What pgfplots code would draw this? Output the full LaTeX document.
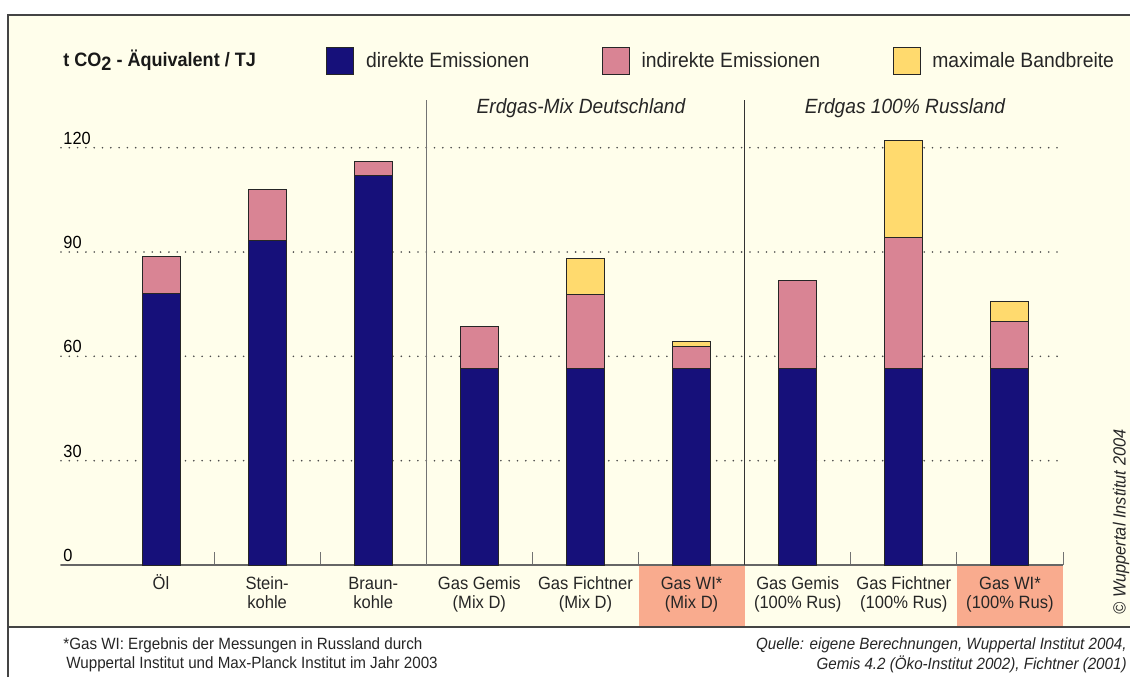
\documentclass[border=0pt]{standalone}
\usepackage{fontspec}
\setmainfont{Liberation Sans}[FakeStretch=0.93]
\usepackage{pgfplots}
\usepackage{pgfplotstable}
\pgfplotsset{compat=1.18}
\definecolor{navyb}{HTML}{16107A}
\definecolor{pinkb}{HTML}{D98494}
\definecolor{yellowb}{HTML}{FFDA6E}
\definecolor{creambg}{HTML}{FFFEEB}
\definecolor{orangebg}{HTML}{F9AB8E}
\definecolor{framec}{HTML}{444444}

\pgfplotstableread{
x direct indirect band
0 78.2 10.4 0
1 93.2 14.9 0
2 111.9 4.0 0
3 56.4 12.3 0
4 56.4 21.5 10.1
5 56.4 6.3 1.7
6 56.4 25.3 0
7 56.4 37.9 27.9
8 56.4 13.5 6.0
}\emissions

\begin{document}
\begin{tikzpicture}
\begin{scope}[x=0.5pt,y=-0.5pt]
\useasboundingbox (0,0) rectangle (1130,677);
\fill[white] (0,0) rectangle (1130,677);
\fill[creambg] (8,15) rectangle (1130,627);
\fill[orangebg] (639,566) rectangle (745,627);
\fill[orangebg] (957,566) rectangle (1063,627);
\draw[framec, line width=0.6pt] (8,677) -- (8,15) -- (1130,15);
\draw[framec, line width=0.6pt] (8,627) -- (1130,627);
\end{scope}
\begin{axis}[
  at={(30.5pt,-282.5pt)}, anchor=south west,
  scale only axis, width=501pt, height=232.5pt,
  xmin=-0.9425, xmax=8.5, ymin=0, ymax=133.7,
  ybar stacked, bar width=19pt,
  axis x line*=bottom, axis y line*=left,
  x axis line style={draw=black!60, line width=0.6pt},
  y axis line style={draw=none},
  tick align=inside,
  xtick={0,...,8},
  xticklabels={{\vphantom{Ö}Öl},{\vphantom{Ö}Stein-\\kohle},{\vphantom{Ö}Braun-\\kohle},{\vphantom{Ö}Gas Gemis\\(Mix D)},{\vphantom{Ö}Gas Fichtner\\(Mix D)},{\vphantom{Ö}Gas WI*\\(Mix D)},{\vphantom{Ö}Gas Gemis\\(100\% Rus)},{\vphantom{Ö}Gas Fichtner\\(100\% Rus)},{\vphantom{Ö}Gas WI*\\(100\% Rus)}},
  major x tick style={draw=none},
  minor xtick={0.5,1.5,3.5,4.5,6.5,7.5,8.5},
  minor tick length=6.5pt,
  minor x tick style={draw=black!55, line width=0.5pt},
  ytick={0,30,60,90,120},
  ytick style={draw=none},
  ymajorgrids,
  grid style={draw=black!70, line width=0.9pt, line cap=round, dash pattern=on 0pt off 4.15pt},
  /pgf/number format/assume math mode=true,
  yticklabel style={anchor=south west, inner sep=0pt, xshift=1pt, yshift=1.5pt, font=\fontsize{8.8}{9.5}\selectfont},
  xticklabel style={align=center, anchor=north, inner sep=0pt, yshift=-4.5pt, font=\fontsize{8.9}{9.5}\selectfont, text=black!85},
  legend columns=-1,
  legend style={at={(0.2645,1.0839)}, anchor=west, draw=none, fill=none, inner sep=0pt,
    font=\fontsize{10.4}{11}\selectfont, text=black!85,
    /tikz/every odd column/.append style={column sep=3.8pt},
    /tikz/every even column/.append style={column sep=34.3pt}},
  legend image code/.code={\draw[#1] (0pt,-6.6pt) rectangle (13.5pt,6.6pt);},
]
\addplot[fill=navyb, draw=black!85, line width=0.5pt] table[x=x,y=direct]{\emissions};
\addplot[fill=pinkb, draw=black!85, line width=0.5pt] table[x=x,y=indirect]{\emissions};
\addplot[fill=yellowb, draw=black!85, line width=0.5pt] table[x=x,y=band]{\emissions};
\legend{direkte Emissionen, indirekte Emissionen, maximale Bandbreite}
\draw[black!55, line width=0.6pt] (axis cs:2.5,0) -- (axis cs:2.5,133.7);
\draw[black!80, line width=0.6pt] (axis cs:5.5,0) -- (axis cs:5.5,133.7);
\end{axis}
\begin{scope}[x=0.5pt,y=-0.5pt]
\node[anchor=west, inner sep=0pt, font=\bfseries\fontsize{9.7}{11}\selectfont, text=black!90] at (63,60) {t CO\raisebox{-0.4ex}{2} - Äquivalent / TJ};
\node[font=\itshape\fontsize{10.3}{11}\selectfont, text=black!85] at (581,108) {Erdgas-Mix Deutschland};
\node[font=\itshape\fontsize{10.3}{11}\selectfont, text=black!85] at (905,108) {Erdgas 100\% Russland};
\node[anchor=west, inner sep=0pt, font=\fontsize{8.15}{9.5}\selectfont, text=black!85] at (63,645) {*Gas WI: Ergebnis der Messungen in Russland durch};
\node[anchor=west, inner sep=0pt, font=\fontsize{8.15}{9.5}\selectfont, text=black!85] at (66,664) {Wuppertal Institut und Max-Planck Institut im Jahr 2003};
\node[anchor=east, inner sep=0pt, font=\itshape\fontsize{8.15}{9.5}\selectfont, text=black!85] at (1127,645) {Quelle: eigene Berechnungen, Wuppertal Institut 2004,};
\node[anchor=east, inner sep=0pt, font=\itshape\fontsize{8.15}{9.5}\selectfont, text=black!85] at (1127,664) {Gemis 4.2 (Öko-Institut 2002), Fichtner (2001)};
\node[rotate=90, inner sep=0pt, font=\itshape\fontsize{8.8}{9.5}\selectfont, text=black!85] at (1121,522) {© Wuppertal Institut 2004};
\end{scope}
\end{tikzpicture}
\end{document}
